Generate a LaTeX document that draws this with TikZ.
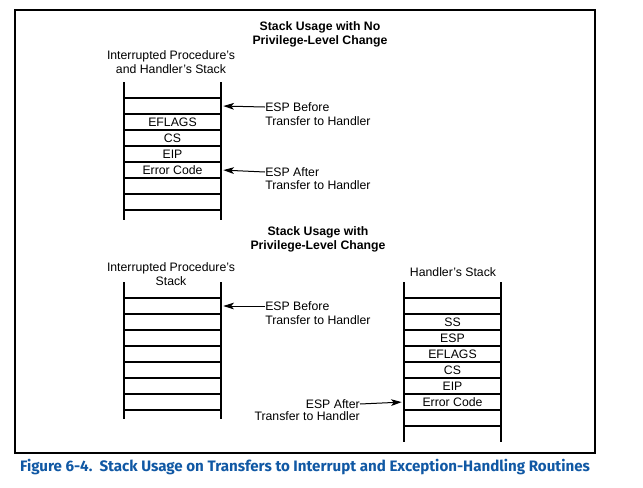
\documentclass[tikz,border=0pt]{standalone}
\usepackage{fontspec}
\setmainfont{Liberation Sans}
\newfontfamily\capfont{Fira Sans}
\usetikzlibrary{arrows.meta,positioning}
\definecolor{figblue}{RGB}{16,88,164}
\tikzset{every picture/.style={
  >={Stealth[length=8pt,width=5pt,inset=2pt]}   % narrow filled tips
  }
}

\begin{document}
\begin{tikzpicture}[x=0.75pt,y=-0.75pt,
    txt/.style={font=\fontsize{9.2}{10.5}\selectfont},
    cell/.style={txt,minimum width=72.75pt,minimum height=12pt,inner sep=0pt},
    lbl/.style={txt,inner sep=0pt},
    heading/.style={txt,align=center,inner sep=0pt},
    rule/.style={line width=0.8pt},
    pointer/.style={->,line width=0.75pt,shorten >=1.5pt},
  ]
  \useasboundingbox (0,0) rectangle (643,487);
  \draw[line width=1pt] (15,10) rectangle (595,453);

  % no privilege-level change
  \node[heading,font=\fontsize{9.2}{10.5}\selectfont\bfseries] (title1) at (320,34)
    {Stack Usage with No\\Privilege-Level Change};
  \node[heading] (name1) at (171,62) {Interrupted Procedure’s\\and Handler’s Stack};
  \foreach \y in {98,114,...,210}
    \draw[rule] (124,\y) -- (221,\y);
  \draw[rule] (124,82) -- (124,220) (221,82) -- (221,220);
  \foreach \t [count=\i] in {{},EFLAGS,CS,EIP,Error Code}
    \node[cell] (a\i) at (172.5,90+16*\i) {\t};
  \node[lbl,anchor=west] (espb1) at (265,107) {ESP Before};
  \node[lbl,anchor=west] (tb1) at (265,121) {Transfer to Handler};
  \node[lbl,anchor=west] (espa1) at (265,172) {ESP After};
  \node[lbl,anchor=west] (ta1) at (265,185) {Transfer to Handler};
  \draw[pointer] (espb1.west) -- (a1.east);
  \draw[pointer] (espa1.west) -- (a5.east);

  % privilege-level change
  \node[heading,font=\fontsize{9.2}{10.5}\selectfont\bfseries] (title2) at (318,239)
    {Stack Usage with\\Privilege-Level Change};
  \node[heading] (name2) at (171,274.5) {Interrupted Procedure’s\\Stack};
  \foreach \y in {298,314,...,410}
    \draw[rule] (124,\y) -- (221,\y);
  \draw[rule] (124,282) -- (124,419) (221,282) -- (221,419);
  \node[cell] (b1) at (172.5,306) {};
  \node[lbl,anchor=west] (espb2) at (265,306) {ESP Before};
  \node[lbl,anchor=west] (tb2) at (265,320) {Transfer to Handler};
  \draw[pointer] (espb2.west) -- (b1.east);

  \node[heading] (name3) at (453,272) {Handler’s Stack};
  \foreach \y in {298,314,...,426}
    \draw[rule] (404,\y) -- (501,\y);
  \draw[rule] (404,282) -- (404,442) (501,282) -- (501,442);
  \foreach \t [count=\i] in {{},SS,ESP,EFLAGS,CS,EIP,Error Code}
    \node[cell] (c\i) at (452.5,290+16*\i) {\t};
  \node[lbl,anchor=east] (espa2) at (360,404) {ESP After};
  \node[lbl,anchor=east] (ta2) at (360,416) {Transfer to Handler};
  \draw[pointer] (espa2.east) -- (c7.west);

  \node[font=\capfont\bfseries\fontsize{11.35}{13}\selectfont,text=figblue,inner sep=0pt]
    (caption) at (305,467)
    {Figure 6-4.\ \ Stack Usage on Transfers to Interrupt and Exception-Handling Routines};
\end{tikzpicture}
\end{document}
